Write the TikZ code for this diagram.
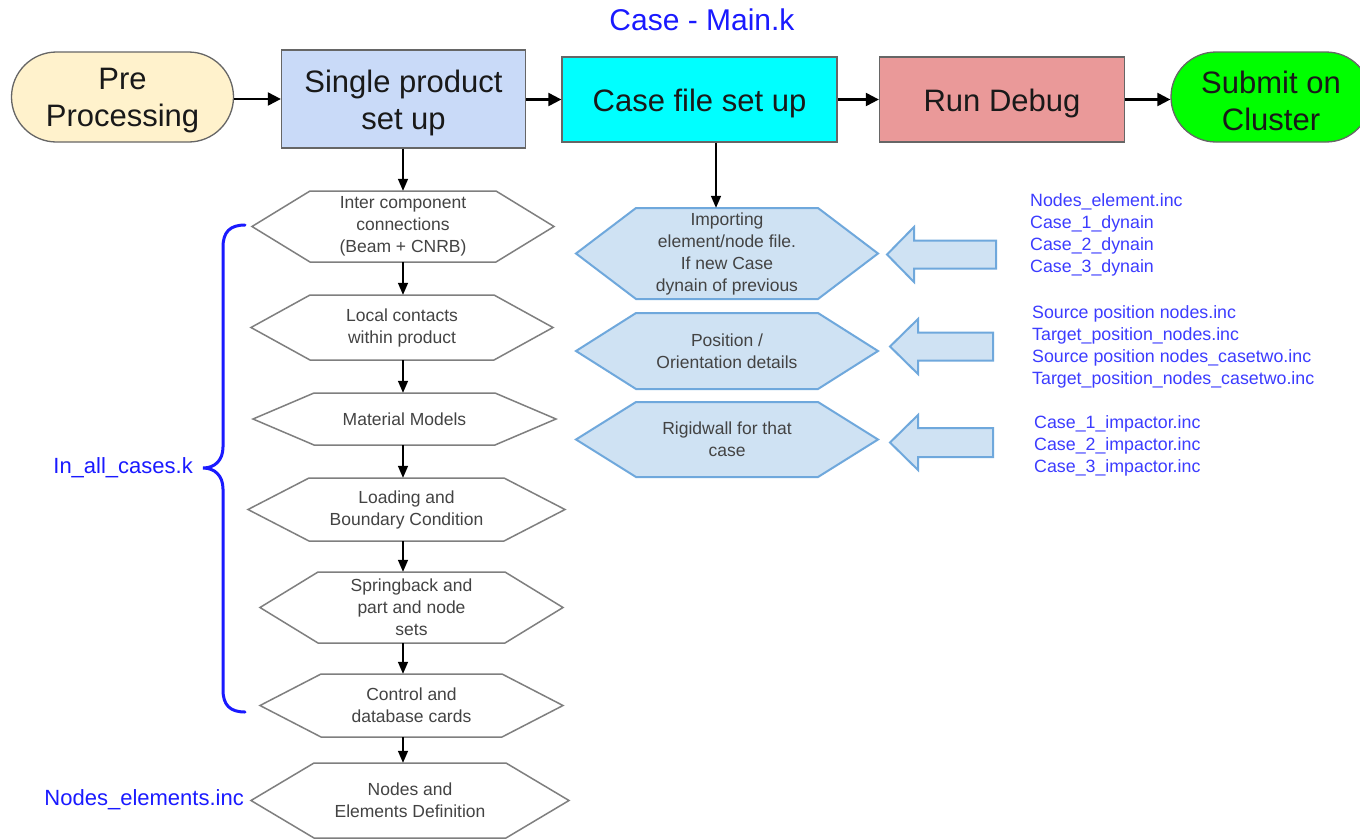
\documentclass[tikz,border=0pt]{standalone}
\usepackage{fontspec}
\setmainfont{Liberation Sans}
\usetikzlibrary{shapes.misc,arrows.meta}
\definecolor{preY}{HTML}{FFF2CC}
\definecolor{singB}{HTML}{C9DAF8}
\definecolor{caseC}{HTML}{00FFFF}
\definecolor{runR}{HTML}{EA9999}
\definecolor{subG}{HTML}{00FF00}
\definecolor{hexB}{HTML}{CFE2F3}
\definecolor{hexE}{HTML}{6FA8DC}
\definecolor{grayE}{HTML}{7F7F7F}
\definecolor{boxE}{HTML}{666666}
\definecolor{txtG}{HTML}{434343}
\definecolor{blT}{HTML}{1A1AFF}
\definecolor{blR}{HTML}{3C3CFF}
\tikzset{
 box/.style={draw=boxE, line width=1.3pt, inner sep=0pt},
 boxtxt/.style={text=black!90, font=\fontsize{31}{37}\selectfont, align=center, inner sep=0pt, yshift=-4pt},
 term/.style={box, rounded rectangle},
 hexw/.style={draw=grayE, line width=1.5pt, fill=white},
 hexb/.style={draw=hexE, line width=2pt, fill=hexB},
 hext/.style={font=\fontsize{17.5}{22}\selectfont, text=txtG, align=center, inner sep=0pt},
 harr/.style={line width=2.2pt, -{Triangle[length=13pt,width=13pt]}},
 varr/.style={line width=1.5pt, -{Triangle[length=12pt,width=10pt]}},
 blockarr/.style={draw=hexE, line width=2pt, fill=hexB},
 bluelbl/.style={font=\fontsize{22}{26}\selectfont, text=blT, inner sep=0pt},
 filelist/.style={font=\fontsize{17.8}{22}\selectfont, text=blR, align=left, inner sep=0pt, anchor=west},
 bracestyle/.style={draw=blT, line width=3pt, line cap=round},
}
\newcommand\hexn[8]{%
 \path[#1] (#3,{(#5+#6)/2}) -- ({#3+#7},#5) -- ({#4-#7},#5) -- (#4,{(#5+#6)/2}) -- ({#4-#7},#6) -- ({#3+#7},#6) -- cycle;
 \node[hext, minimum width={#4-#3}, minimum height={#6-#5}] (#2) at ({(#3+#4)/2},{(#5+#6)/2}) {#8};}
\newcommand\blkarr[6]{%
 \path[blockarr] (#1,#4) -- (#2,{#4-#5}) -- (#2,{#4-#6}) -- (#3,{#4-#6}) -- (#3,{#4+#6}) -- (#2,{#4+#6}) -- (#2,{#4+#5}) -- cycle;}
\begin{document}
\begin{tikzpicture}[x=1pt,y=-1pt]
\useasboundingbox (0,0) rectangle (1360,839);
\clip (0,0) rectangle (1360,839);
\fill[white] (0,0) rectangle (1360,839);

\node[font=\fontsize{30}{36}\selectfont, text=blT, inner sep=0pt] (title) at (702,20) {Case - Main.k};

\node[term, fill=preY, minimum width=222, minimum height=90, label={[boxtxt]center:{Pre\\Processing}}] (pre) at (122.5,97) {};
\node[box, fill=singB, minimum width=244, minimum height=98, label={[boxtxt]center:{Single product\\set up}}] (single) at (403.5,99) {};
\node[box, fill=caseC, minimum width=275, minimum height=85, label={[boxtxt]center:{Case file set up}}] (casef) at (699.5,99.5) {};
\node[box, fill=runR, minimum width=245, minimum height=85, label={[boxtxt]center:{Run Debug}}] (run) at (1002,99.5) {};
\node[term, fill=subG, minimum width=200, minimum height=90, label={[boxtxt]center:{Submit on\\Cluster}}] (submit) at (1271,97) {};

\draw[harr] (pre.east |- single.west) -- (single.west);
\draw[harr] (single.east |- casef.west) -- (casef.west);
\draw[harr] (casef.east) -- (run.west);
\draw[harr] (run.east) -- (run.east -| submit.west);

\hexn{hexw}{hinter}{252}{554}{191}{262}{58}{Inter component\\connections\\(Beam + CNRB)}
\hexn{hexw}{hlocal}{251}{553}{295}{360}{59}{Local contacts\\within product}
\hexn{hexw}{hmat}{253}{556}{393}{445}{61}{Material Models}
\hexn{hexw}{hload}{248}{565}{478}{541}{61}{Loading and\\Boundary Condition}
\hexn{hexw}{hspring}{260}{563}{572}{643}{58}{Springback and\\part and node\\sets}
\hexn{hexw}{hctrl}{260}{563}{674}{737}{61}{Control and\\database cards}
\hexn{hexw}{hnodes}{251}{569}{763}{838}{63}{Nodes and\\Elements Definition}

\hexn{hexb}{himp}{576}{878}{208}{299}{60}{Importing\\element/node file.\\If new Case\\dynain of previous}
\hexn{hexb}{hpos}{576}{878}{313}{389}{60}{Position /\\Orientation details}
\hexn{hexb}{hrig}{576}{878}{402}{477}{60}{Rigidwall for that\\case}

\coordinate (lax) at (403,0);
\coordinate (cax) at (716,0);
\draw[varr] (lax |- single.south) -- (lax |- hinter.north);
\draw[varr] (lax |- hinter.south) -- (lax |- hlocal.north);
\draw[varr] (lax |- hlocal.south) -- (lax |- hmat.north);
\draw[varr] (lax |- hmat.south) -- (lax |- hload.north);
\draw[varr] (lax |- hload.south) -- (lax |- hspring.north);
\draw[varr] (lax |- hspring.south) -- (lax |- hctrl.north);
\draw[varr] (lax |- hctrl.south) -- (lax |- hnodes.north);
\draw[varr] (cax |- casef.south) -- (cax |- himp.north);

\blkarr{887}{914}{996}{254.5}{27.5}{14}
\blkarr{890}{918}{993}{346.5}{27.5}{14}
\blkarr{890}{918}{993}{442.5}{27.5}{14.5}

\path[bracestyle] (245,225) .. controls (230,225) and (223,232) .. (223,247) -- (223,447) .. controls (223,460) and (215,468) .. (203,468) .. controls (215,468) and (223,476) .. (223,489) -- (223,690) .. controls (223,705) and (230,712) .. (245,712);

\node[bluelbl, anchor=east] (lall) at (193,468) {In\_all\_cases.k};
\node[bluelbl, anchor=east] (lnodes) at (244,800) {Nodes\_elements.inc};

\node[filelist] (f1) at (1030,235) {Nodes\_element.inc\\Case\_1\_dynain\\Case\_2\_dynain\\Case\_3\_dynain};
\node[filelist] (f2) at (1032,346.5) {Source position nodes.inc\\Target\_position\_nodes.inc\\Source position nodes\_casetwo.inc\\Target\_position\_nodes\_casetwo.inc};
\node[filelist] (f3) at (1034,446) {Case\_1\_impactor.inc\\Case\_2\_impactor.inc\\Case\_3\_impactor.inc};
\end{tikzpicture}
\end{document}
